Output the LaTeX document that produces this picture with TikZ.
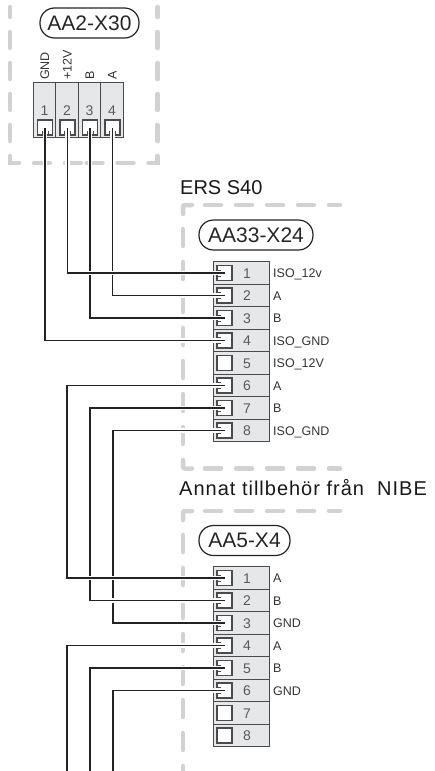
\documentclass[tikz,border=0pt]{standalone}
\usepackage{fontspec}
\setmainfont{Liberation Sans}
\usepackage{color}
\definecolor{boxgray}{RGB}{208,210,211}
\definecolor{cellgray}{RGB}{230,231,232}
\definecolor{linegray}{RGB}{75,75,77}
\definecolor{wirecol}{RGB}{35,35,37}
\definecolor{numgray}{RGB}{90,90,92}

\begin{document}
\begin{tikzpicture}[line cap=butt,line join=miter,x=1pt,y=-1pt,
  dashline/.style={draw=boxgray,line width=4.5pt,line cap=round},
  cell/.style={draw=linegray,fill=cellgray,line width=1pt,inner sep=0pt,minimum width=56pt,minimum height=22.5pt},
  topcell/.style={draw=linegray,fill=cellgray,line width=1pt,inner sep=0pt,minimum width=22.5pt,minimum height=55pt},
  termsq/.style={draw=linegray,fill=white,line width=1.1pt,inner sep=0pt,minimum size=15pt},
  tick/.style={draw=linegray,line width=0.9pt},
  wire/.style={draw=wirecol,line width=1.6pt,preaction={draw=white,line width=4.5pt}},
  pill/.style={draw=wirecol,line width=1.2pt,rounded corners=14.5pt,inner sep=0pt,minimum height=30pt,font=\fontsize{21}{21}\selectfont,text=black!85},
  title/.style={anchor=base west,inner sep=0pt,font=\fontsize{20}{20}\selectfont,text=black!90},
  num/.style={anchor=base,inner sep=0pt,font=\fontsize{14}{14}\selectfont,text=numgray},
  sig/.style={anchor=base west,inner sep=0pt,font=\fontsize{12.5}{12.5}\selectfont,text=black!80},
  topsig/.style={anchor=base west,rotate=90,inner sep=0pt,font=\fontsize{12.5}{12.5}\selectfont,text=black!80}]
\useasboundingbox (0,0) rectangle (434,771);
% dashed frames
\draw[dashline,dash pattern=on 16 off 15,dash phase=6] (10,7)--(10,163)--(84,163);
\draw[dashline,dash pattern=on 16 off 15,dash phase=6] (157.5,7)--(157.5,163)--(84,163);
\draw[dashline,rounded corners=2pt] (192,205)--(183,205)--(183,214);
\draw[dashline,dash pattern=on 16 off 15] (205,205)--(340,205);
\draw[dashline,dash pattern=on 17 off 16] (183,229)--(183,446);
\draw[dashline,rounded corners=2pt] (183,460)--(183,468.5)--(192,468.5);
\draw[dashline,dash pattern=on 16 off 15] (205,468.5)--(340,468.5);
\draw[dashline,rounded corners=2pt] (192,511)--(183,511)--(183,520);
\draw[dashline,dash pattern=on 16 off 15] (205,511)--(340,511);
\draw[dashline,dash pattern=on 17 off 16] (183,535)--(183,771);
% titles
\node[pill,minimum width=99pt] (px30) at (89.5,23) {AA2-X30};
\node[pill,minimum width=114pt] (px24) at (256,235) {AA33-X24};
\node[pill,minimum width=91pt] (px4) at (244.5,540.5) {AA5-X4};
\node[title] (ers) at (180,194) {ERS S40};
\node[title] (annat) at (179,495.5) {\addfontfeature{LetterSpace=5}Annat tillbehör från\ \ NIBE};
% terminals
\foreach \i/\sg in {1/GND,2/+12V,3/B,4/A} {
  \node[topcell] (tc\i) at (22+22.5*\i,109.5) {};
  \node[termsq] (t\i) at (22.5+22.5*\i,127.5) {};
  \node[num] (tn\i) at (22+22.5*\i,115) {\i};
  \node[topsig] (ts\i) at (26.5+22.5*\i,80) {\sg};
}
\foreach \i in {1,...,8} {
  \node[cell] (ac\i) at (241,250.5+22.5*\i) {};
  \node[termsq] (a\i) at (224.5,250.5+22.5*\i) {};
  \node[num] (an\i) at (247,255.5+22.5*\i) {\i};
  \node[cell] (bc\i) at (241,555.5+22.5*\i) {};
  \node[termsq] (b\i) at (224.5,555.5+22.5*\i) {};
  \node[num] (bn\i) at (247,560.5+22.5*\i) {\i};
}
\foreach \i/\sg in {1/ISO\_12v,2/A,3/B,4/ISO\_GND,5/ISO\_12V,6/A,7/B,8/ISO\_GND}
  \node[sig] (as\i) at (273,255*1+22.5*\i) {\sg};
\foreach \i/\sg in {1/A,2/B,3/GND,4/A,5/B,6/GND}
  \node[sig] (bs\i) at (273,560*1+22.5*\i) {\sg};
% wires
\coordinate (v1) at (67,480);
\coordinate (v2) at (90,480);
\coordinate (v3) at (113,480);
\coordinate (e1) at (67,771);
\coordinate (e2) at (90,771);
\coordinate (e3) at (113,771);
\draw[wire] (t1.center) |- (a4.center);
\draw[wire] (t3.center) |- (a3.center);
\draw[wire] (t4.center) |- (a2.center);
\draw[wire] (t2.center) |- (a1.center);
\draw[wire] (a8.center) -| (v3) |- (b3.center);
\draw[wire] (a7.center) -| (v2) |- (b2.center);
\draw[wire] (a6.center) -| (v1) |- (b1.center);
\draw[wire] (b4.center) -| (e1);
\draw[wire] (b5.center) -| (e2);
\draw[wire] (b6.center) -| (e3);
% small jogs beside the wires
\foreach \n in {a1,a2,a3,a4,a6,a7,a8,b1,b2,b3,b4,b5,b6} {
  \draw[tick] ([xshift=-7.5pt,yshift=3pt]\n.center) -- ([xshift=-3.5pt,yshift=3pt]\n.center);
  \draw[tick] ([xshift=-7.5pt,yshift=-3pt]\n.center) -- ([xshift=-3.5pt,yshift=-3pt]\n.center);
}
\foreach \n in {t1,t2,t3,t4} {
  \draw[tick] ([xshift=-3pt,yshift=-7.5pt]\n.center) -- ([xshift=-3pt,yshift=-3.5pt]\n.center);
  \draw[tick] ([xshift=3pt,yshift=-7.5pt]\n.center) -- ([xshift=3pt,yshift=-3.5pt]\n.center);
}
\end{tikzpicture}
\end{document}
